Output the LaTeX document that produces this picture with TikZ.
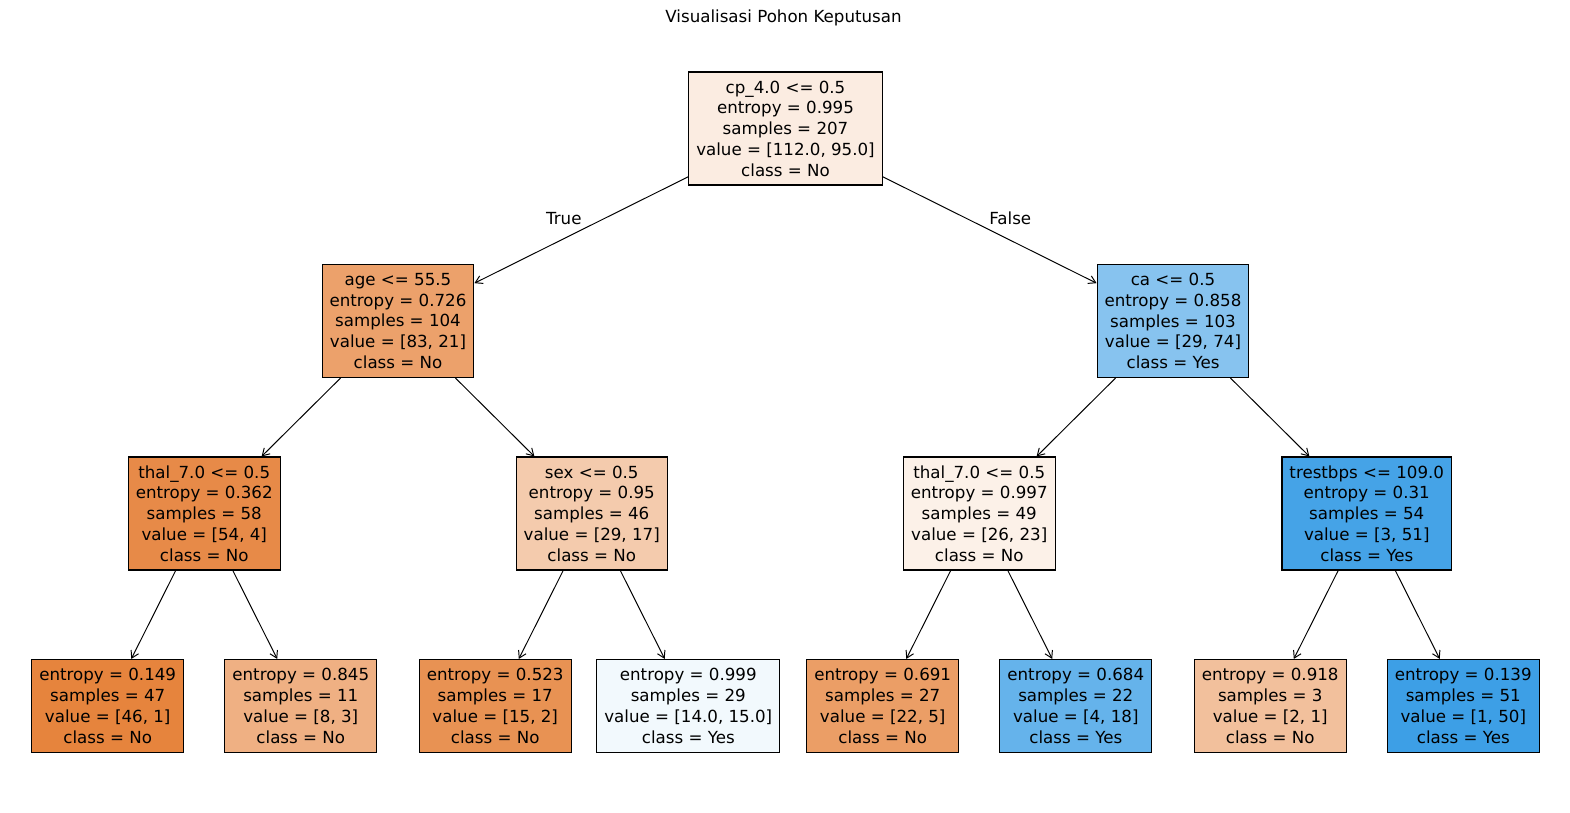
\documentclass[tikz,border=0pt]{standalone}
\usepackage{fontspec}
\setmainfont{DejaVu Sans}
\usetikzlibrary{arrows.meta}

\definecolor{cRoot}{RGB}{251,236,225}
\definecolor{cAge}{RGB}{236,161,107}
\definecolor{cCa}{RGB}{135,195,239}
\definecolor{cThalA}{RGB}{231,138,72}
\definecolor{cSex}{RGB}{244,203,173}
\definecolor{cThalB}{RGB}{252,241,232}
\definecolor{cTrest}{RGB}{69,163,231}
\definecolor{cLeafA}{RGB}{230,132,61}
\definecolor{cLeafB}{RGB}{239,176,131}
\definecolor{cLeafC}{RGB}{232,146,83}
\definecolor{cLeafD}{RGB}{242,249,253}
\definecolor{cLeafE}{RGB}{235,158,102}
\definecolor{cLeafF}{RGB}{101,179,235}
\definecolor{cLeafG}{RGB}{242,192,156}
\definecolor{cLeafH}{RGB}{61,159,230}

\begin{document}
\begin{tikzpicture}[x=0.72pt,y=-0.72pt,level distance=138.6pt,
    edge from parent/.style={draw,marrs}]
    \tikzstyle{marrs}=[line width=0.7pt,-{Straight Barb[length=5pt,width=6pt]}]
    \tikzstyle{tnode}=[draw=black, line width=0.8pt, align=center, inner xsep=5.4pt, inner ysep=2pt, minimum height=81.4pt, font=\fontsize{12}{14.94}\selectfont]
    \tikzstyle{leaf}=[tnode, minimum height=67pt]
    \tikzstyle{elabel}=[midway, draw=none, font=\fontsize{12}{14.4}\selectfont]

    \tikzstyle{level 1}=[sibling distance = 558pt];
    \tikzstyle{level 2}=[sibling distance = 279pt];
    \tikzstyle{level 3}=[sibling distance = 139pt];

    \useasboundingbox (0,0) rectangle (1570,812);

    \node[font=\fontsize{12}{14.4}\selectfont] (title) at (783.5,18) {Visualisasi Pohon Keputusan};

    \node[tnode, fill=cRoot] (cp) at (785.5,128.5) {cp\_4.0 <= 0.5\\entropy = 0.995\\samples = 207\\value = [112.0, 95.0]\\class = No}
        child { node[tnode, fill=cAge] (age) {age <= 55.5\\entropy = 0.726\\samples = 104\\value = [83, 21]\\class = No}
            child { node[tnode, fill=cThalA] (thalA) {thal\_7.0 <= 0.5\\entropy = 0.362\\samples = 58\\value = [54, 4]\\class = No}
                child { node[leaf, fill=cLeafA] (leafA) {entropy = 0.149\\samples = 47\\value = [46, 1]\\class = No} }
                child { node[leaf, fill=cLeafB] (leafB) {entropy = 0.845\\samples = 11\\value = [8, 3]\\class = No} }
            }
            child { node[tnode, fill=cSex] (sex) {sex <= 0.5\\entropy = 0.95\\samples = 46\\value = [29, 17]\\class = No}
                child { node[leaf, fill=cLeafC] (leafC) {entropy = 0.523\\samples = 17\\value = [15, 2]\\class = No} }
                child { node[leaf, fill=cLeafD] (leafD) {entropy = 0.999\\samples = 29\\value = [14.0, 15.0]\\class = Yes} }
            }
            edge from parent node[elabel, xshift=-12.6pt, yshift=8.6pt] {True}
        }
        child { node[tnode, fill=cCa] (ca) {ca <= 0.5\\entropy = 0.858\\samples = 103\\value = [29, 74]\\class = Yes}
            child { node[tnode, fill=cThalB] (thalB) {thal\_7.0 <= 0.5\\entropy = 0.997\\samples = 49\\value = [26, 23]\\class = No}
                child { node[leaf, fill=cLeafE] (leafE) {entropy = 0.691\\samples = 27\\value = [22, 5]\\class = No} }
                child { node[leaf, fill=cLeafF] (leafF) {entropy = 0.684\\samples = 22\\value = [4, 18]\\class = Yes} }
            }
            child { node[tnode, fill=cTrest] (trest) {trestbps <= 109.0\\entropy = 0.31\\samples = 54\\value = [3, 51]\\class = Yes}
                child { node[leaf, fill=cLeafG] (leafG) {entropy = 0.918\\samples = 3\\value = [2, 1]\\class = No} }
                child { node[leaf, fill=cLeafH] (leafH) {entropy = 0.139\\samples = 51\\value = [1, 50]\\class = Yes} }
            }
            edge from parent node[elabel, xshift=14.8pt, yshift=8.5pt] {False}
        };

\end{tikzpicture}
\end{document}
